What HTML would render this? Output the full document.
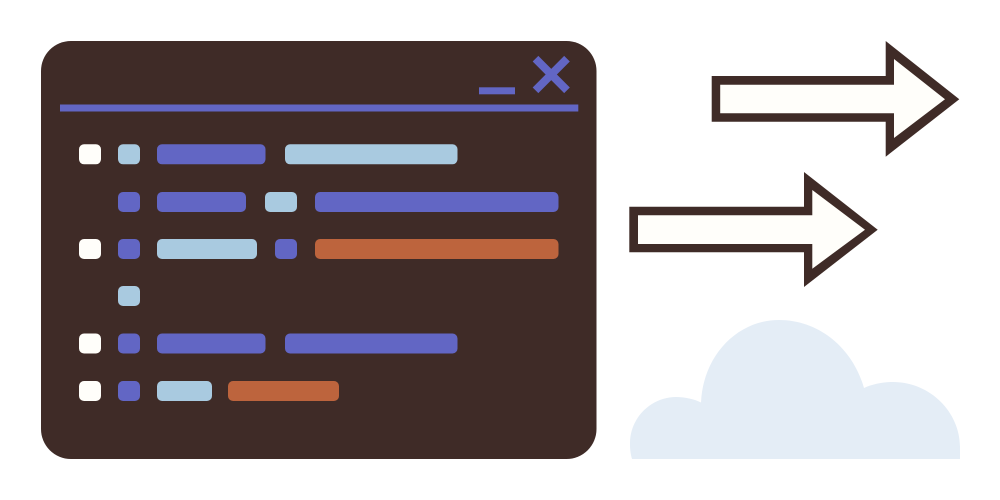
<!DOCTYPE html>
<html>
<head>
<meta charset="utf-8">
<style>
html,body{margin:0;padding:0;background:#fff;width:1000px;height:500px;overflow:hidden}
svg{display:block}
</style>
</head>
<body>
<svg width="1000" height="500" viewBox="0 0 1000 500" xmlns="http://www.w3.org/2000/svg">
<rect width="1000" height="500" fill="#fff"/>
<rect x="41" y="41" width="555.500" height="418" rx="30" fill="#3f2b27"/>
<rect x="60" y="104.500" width="518.300" height="7" fill="#6266c4"/>
<rect x="479" y="87.300" width="36" height="7" fill="#6266c4"/>
<path d="M535.500 58.700L567 90.300M567 58.700L535.500 90.300" stroke="#6266c4" stroke-width="8" fill="none"/>
<g fill="#fffefa">
<rect x="79" y="144.300" width="22" height="20" rx="5"/>
<rect x="79" y="239" width="22" height="20" rx="5"/>
<rect x="79" y="333.500" width="22" height="20" rx="5"/>
<rect x="79" y="381" width="22" height="20" rx="5"/>
</g>
<g fill="#a9cae0">
<rect x="118" y="144.300" width="22" height="20" rx="5"/>
<rect x="285" y="144.300" width="172.500" height="20" rx="5"/>
<rect x="265" y="192" width="32" height="20" rx="5"/>
<rect x="157" y="239" width="100" height="20" rx="5"/>
<rect x="118" y="286" width="22" height="20" rx="5"/>
<rect x="157" y="381" width="55" height="20" rx="5"/>
</g>
<g fill="#6266c4">
<rect x="157" y="144.300" width="108.500" height="20" rx="5"/>
<rect x="118" y="192" width="22" height="20" rx="5"/>
<rect x="157" y="192" width="89" height="20" rx="5"/>
<rect x="315" y="192" width="243.500" height="20" rx="5"/>
<rect x="118" y="239" width="22" height="20" rx="5"/>
<rect x="275" y="239" width="22" height="20" rx="5"/>
<rect x="118" y="333.500" width="22" height="20" rx="5"/>
<rect x="157" y="333.500" width="108.500" height="20" rx="5"/>
<rect x="285" y="333.500" width="172.500" height="20" rx="5"/>
<rect x="118" y="381" width="22" height="20" rx="5"/>
</g>
<g fill="#bd643d">
<rect x="315" y="239" width="243.500" height="20" rx="5"/>
<rect x="228" y="381" width="111" height="20" rx="5"/>
</g>
<path d="M711.700 76H885.700V41L959.300 99.300L885.700 156.700V121.700H711.700Z" fill="#3f2b27"/>
<path d="M720.200 84.700H894V59L945 99.300L894 138V113.300H720.200Z" fill="#fffefa"/>
<path d="M629.300 206.700H804V172L877.700 229.700L804 287V252.300H629.300Z" fill="#3f2b27"/>
<path d="M638 215.300H812.300V190L865 229.700L812.300 268.700V244H638Z" fill="#fffefa"/>
<path d="M632 459C630 452 630 447 630 443C630 418 651 397 676 397C685 397 694 399 701 402.500C703 356 737 320 779 320C820 320 853 349 864 388C873 384 883 382 893 382C930 382 960 412 960 447V459Z" fill="#e4edf6"/>
</svg>
</body>
</html>
